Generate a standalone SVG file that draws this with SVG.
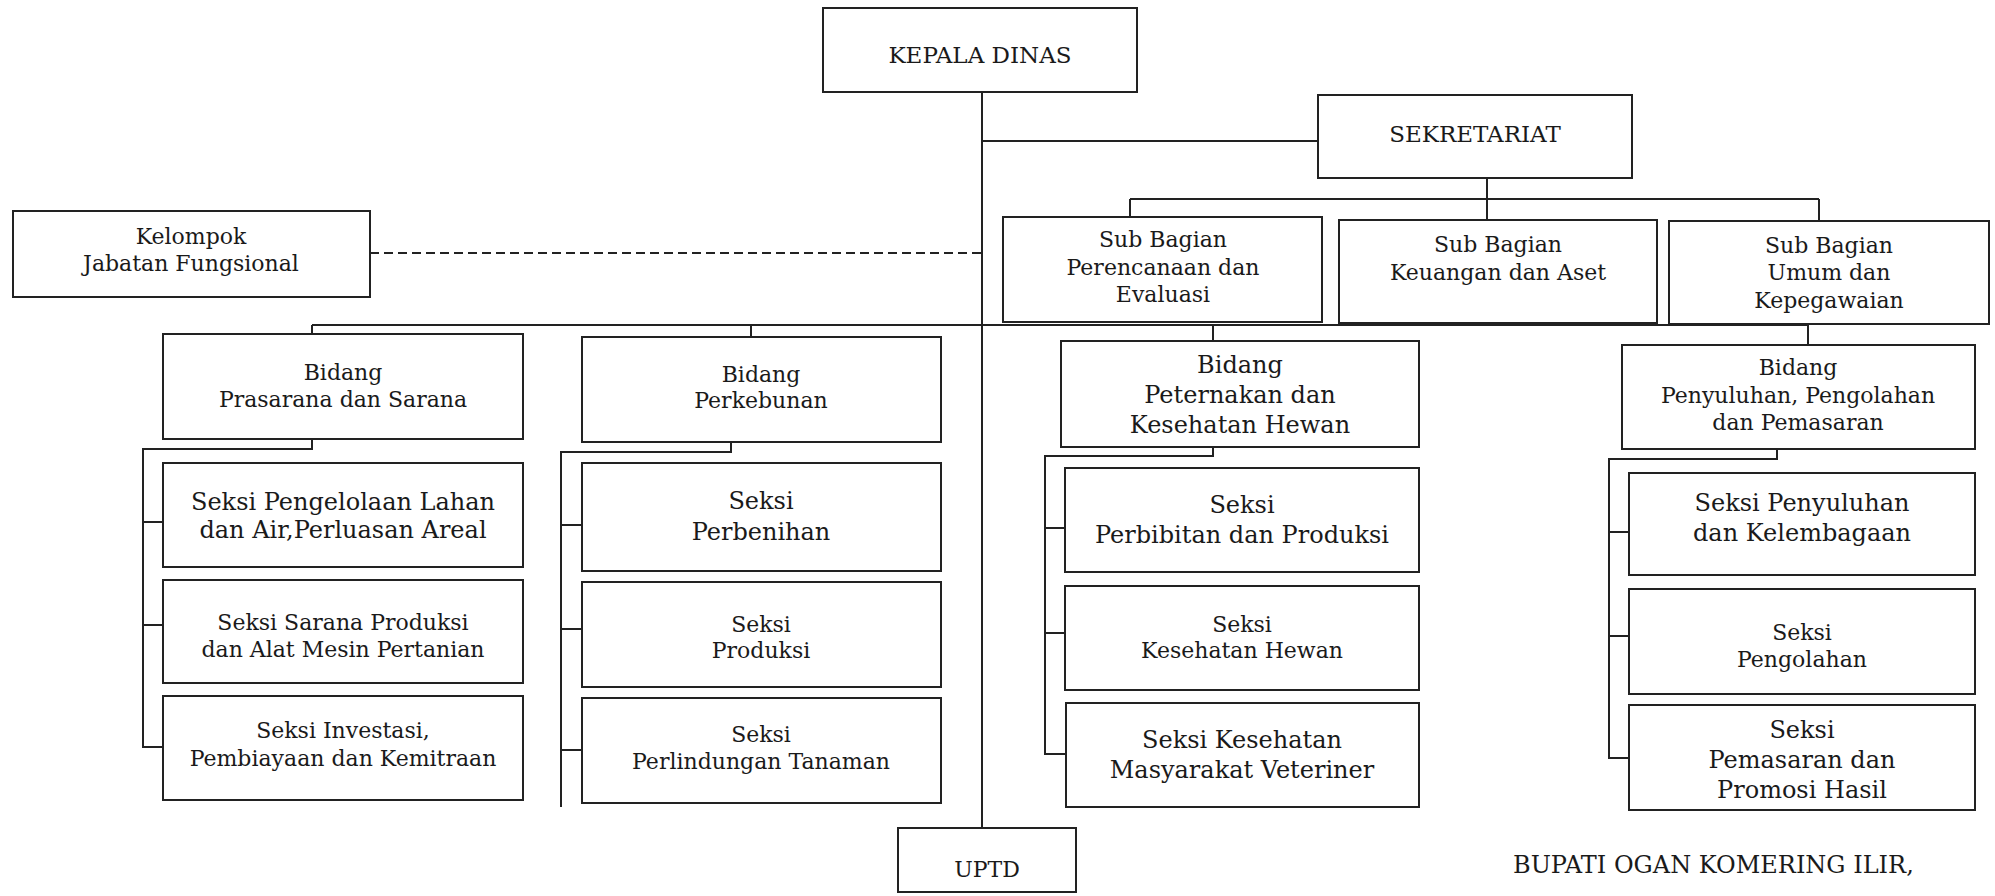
<svg xmlns="http://www.w3.org/2000/svg" width="1995" height="896" viewBox="0 0 1995 896">
<style>
  .box { fill: #ffffff; stroke: #222222; stroke-width: 2; }
  .ln { fill: none; stroke: #222222; stroke-width: 2; }
  .dash { fill: none; stroke: #222222; stroke-width: 2; stroke-dasharray: 9 5; }
  text { font-family: "DejaVu Serif", "Liberation Serif", serif; fill: #1a1a1a; text-anchor: middle; }
  .s22 { font-size: 22px; }
  .s23 { font-size: 23px; }
  .s24 { font-size: 24px; }
</style>
<rect x="0" y="0" width="1995" height="896" fill="#ffffff"/>

<g id="connectors">
  <!-- main trunk -->
  <line class="ln" x1="982" y1="92" x2="982" y2="828"/>
  <!-- to sekretariat -->
  <line class="ln" x1="982" y1="141" x2="1318" y2="141"/>
  <!-- sekretariat to sub bagian -->
  <line class="ln" x1="1487" y1="178" x2="1487" y2="220"/>
  <line class="ln" x1="1130" y1="199" x2="1819" y2="199"/>
  <line class="ln" x1="1130" y1="199" x2="1130" y2="217"/>
  <line class="ln" x1="1819" y1="199" x2="1819" y2="221"/>
  <!-- kelompok dashed -->
  <line class="dash" x1="370" y1="253" x2="982" y2="253"/>
  <!-- bidang bus -->
  <line class="ln" x1="312" y1="325" x2="1808" y2="325"/>
  <line class="ln" x1="312" y1="325" x2="312" y2="334"/>
  <line class="ln" x1="751" y1="325" x2="751" y2="337"/>
  <line class="ln" x1="1213" y1="325" x2="1213" y2="341"/>
  <line class="ln" x1="1808" y1="325" x2="1808" y2="345"/>
  <!-- column 1 -->
  <polyline class="ln" points="312,439 312,449 143,449 143,747 163,747"/>
  <line class="ln" x1="143" y1="522" x2="163" y2="522"/>
  <line class="ln" x1="143" y1="625" x2="163" y2="625"/>
  <!-- column 2 -->
  <polyline class="ln" points="731,442 731,452 561,452 561,807"/>
  <line class="ln" x1="561" y1="525" x2="582" y2="525"/>
  <line class="ln" x1="561" y1="629" x2="582" y2="629"/>
  <line class="ln" x1="561" y1="750" x2="582" y2="750"/>
  <!-- column 3 -->
  <polyline class="ln" points="1213,447 1213,456 1045,456 1045,754 1065,754"/>
  <line class="ln" x1="1045" y1="528" x2="1065" y2="528"/>
  <line class="ln" x1="1045" y1="633" x2="1065" y2="633"/>
  <!-- column 4 -->
  <polyline class="ln" points="1777,449 1777,459 1609,459 1609,758 1629,758"/>
  <line class="ln" x1="1609" y1="532" x2="1629" y2="532"/>
  <line class="ln" x1="1609" y1="636" x2="1629" y2="636"/>
</g>

<g id="kepala-dinas">
  <rect class="box" x="823" y="8" width="314" height="84"/>
  <text class="s23" x="980" y="63">KEPALA DINAS</text>
</g>

<g id="sekretariat">
  <rect class="box" x="1318" y="95" width="314" height="83"/>
  <text class="s23" x="1475" y="142">SEKRETARIAT</text>
</g>

<g id="subbag-perencanaan">
  <rect class="box" x="1003" y="217" width="319" height="105"/>
  <text class="s22" x="1163" y="247">Sub Bagian</text>
  <text class="s22" x="1163" y="275">Perencanaan dan</text>
  <text class="s22" x="1163" y="302">Evaluasi</text>
</g>

<g id="subbag-keuangan">
  <rect class="box" x="1339" y="220" width="318" height="103"/>
  <text class="s22" x="1498" y="252">Sub Bagian</text>
  <text class="s22" x="1498" y="280">Keuangan dan Aset</text>
</g>

<g id="subbag-umum">
  <rect class="box" x="1669" y="221" width="320" height="103"/>
  <text class="s22" x="1829" y="253">Sub Bagian</text>
  <text class="s22" x="1829" y="280">Umum dan</text>
  <text class="s22" x="1829" y="308">Kepegawaian</text>
</g>

<g id="kelompok-jabatan-fungsional">
  <rect class="box" x="13" y="211" width="357" height="86"/>
  <text class="s22" x="191" y="244">Kelompok</text>
  <text class="s22" x="191" y="271">Jabatan Fungsional</text>
</g>

<g id="bidang-prasarana">
  <rect class="box" x="163" y="334" width="360" height="105"/>
  <text class="s22" x="343" y="380">Bidang</text>
  <text class="s22" x="343" y="407">Prasarana dan Sarana</text>
</g>

<g id="bidang-perkebunan">
  <rect class="box" x="582" y="337" width="359" height="105"/>
  <text class="s22" x="761" y="382">Bidang</text>
  <text class="s22" x="761" y="408">Perkebunan</text>
</g>

<g id="bidang-peternakan">
  <rect class="box" x="1061" y="341" width="358" height="106"/>
  <text class="s24" x="1240" y="373">Bidang</text>
  <text class="s24" x="1240" y="403">Peternakan dan</text>
  <text class="s24" x="1240" y="433">Kesehatan Hewan</text>
</g>

<g id="bidang-penyuluhan">
  <rect class="box" x="1622" y="345" width="353" height="104"/>
  <text class="s22" x="1798" y="375">Bidang</text>
  <text class="s22" x="1798" y="403">Penyuluhan, Pengolahan</text>
  <text class="s22" x="1798" y="430">dan Pemasaran</text>
</g>

<g id="seksi-pengelolaan-lahan">
  <rect class="box" x="163" y="463" width="360" height="104"/>
  <text class="s24" x="343" y="510">Seksi Pengelolaan Lahan</text>
  <text class="s24" x="343" y="538">dan Air,Perluasan Areal</text>
</g>

<g id="seksi-sarana-produksi">
  <rect class="box" x="163" y="580" width="360" height="103"/>
  <text class="s22" x="343" y="630">Seksi Sarana Produksi</text>
  <text class="s22" x="343" y="657">dan Alat Mesin Pertanian</text>
</g>

<g id="seksi-investasi">
  <rect class="box" x="163" y="696" width="360" height="104"/>
  <text class="s22" x="343" y="738">Seksi Investasi,</text>
  <text class="s22" x="343" y="766">Pembiayaan dan Kemitraan</text>
</g>

<g id="seksi-perbenihan">
  <rect class="box" x="582" y="463" width="359" height="108"/>
  <text class="s24" x="761" y="509">Seksi</text>
  <text class="s24" x="761" y="540">Perbenihan</text>
</g>

<g id="seksi-produksi">
  <rect class="box" x="582" y="582" width="359" height="105"/>
  <text class="s22" x="761" y="632">Seksi</text>
  <text class="s22" x="761" y="658">Produksi</text>
</g>

<g id="seksi-perlindungan-tanaman">
  <rect class="box" x="582" y="698" width="359" height="105"/>
  <text class="s22" x="761" y="742">Seksi</text>
  <text class="s22" x="761" y="769">Perlindungan Tanaman</text>
</g>

<g id="seksi-perbibitan">
  <rect class="box" x="1065" y="468" width="354" height="104"/>
  <text class="s24" x="1242" y="513">Seksi</text>
  <text class="s24" x="1242" y="543">Perbibitan dan Produksi</text>
</g>

<g id="seksi-kesehatan-hewan">
  <rect class="box" x="1065" y="586" width="354" height="104"/>
  <text class="s22" x="1242" y="632">Seksi</text>
  <text class="s22" x="1242" y="658">Kesehatan Hewan</text>
</g>

<g id="seksi-kesmavet">
  <rect class="box" x="1066" y="703" width="353" height="104"/>
  <text class="s24" x="1242" y="748">Seksi Kesehatan</text>
  <text class="s24" x="1242" y="778">Masyarakat Veteriner</text>
</g>

<g id="seksi-penyuluhan">
  <rect class="box" x="1629" y="473" width="346" height="102"/>
  <text class="s24" x="1802" y="511">Seksi Penyuluhan</text>
  <text class="s24" x="1802" y="541">dan Kelembagaan</text>
</g>

<g id="seksi-pengolahan">
  <rect class="box" x="1629" y="589" width="346" height="105"/>
  <text class="s22" x="1802" y="640">Seksi</text>
  <text class="s22" x="1802" y="667">Pengolahan</text>
</g>

<g id="seksi-pemasaran">
  <rect class="box" x="1629" y="705" width="346" height="105"/>
  <text class="s24" x="1802" y="738">Seksi</text>
  <text class="s24" x="1802" y="768">Pemasaran dan</text>
  <text class="s24" x="1802" y="798">Promosi Hasil</text>
</g>

<g id="uptd">
  <rect class="box" x="898" y="828" width="178" height="64"/>
  <text class="s22" x="987" y="877">UPTD</text>
</g>

<g id="signature">
  <text class="s24" x="1513" y="873" style="text-anchor:start">BUPATI OGAN KOMERING ILIR,</text>
</g>
</svg>
